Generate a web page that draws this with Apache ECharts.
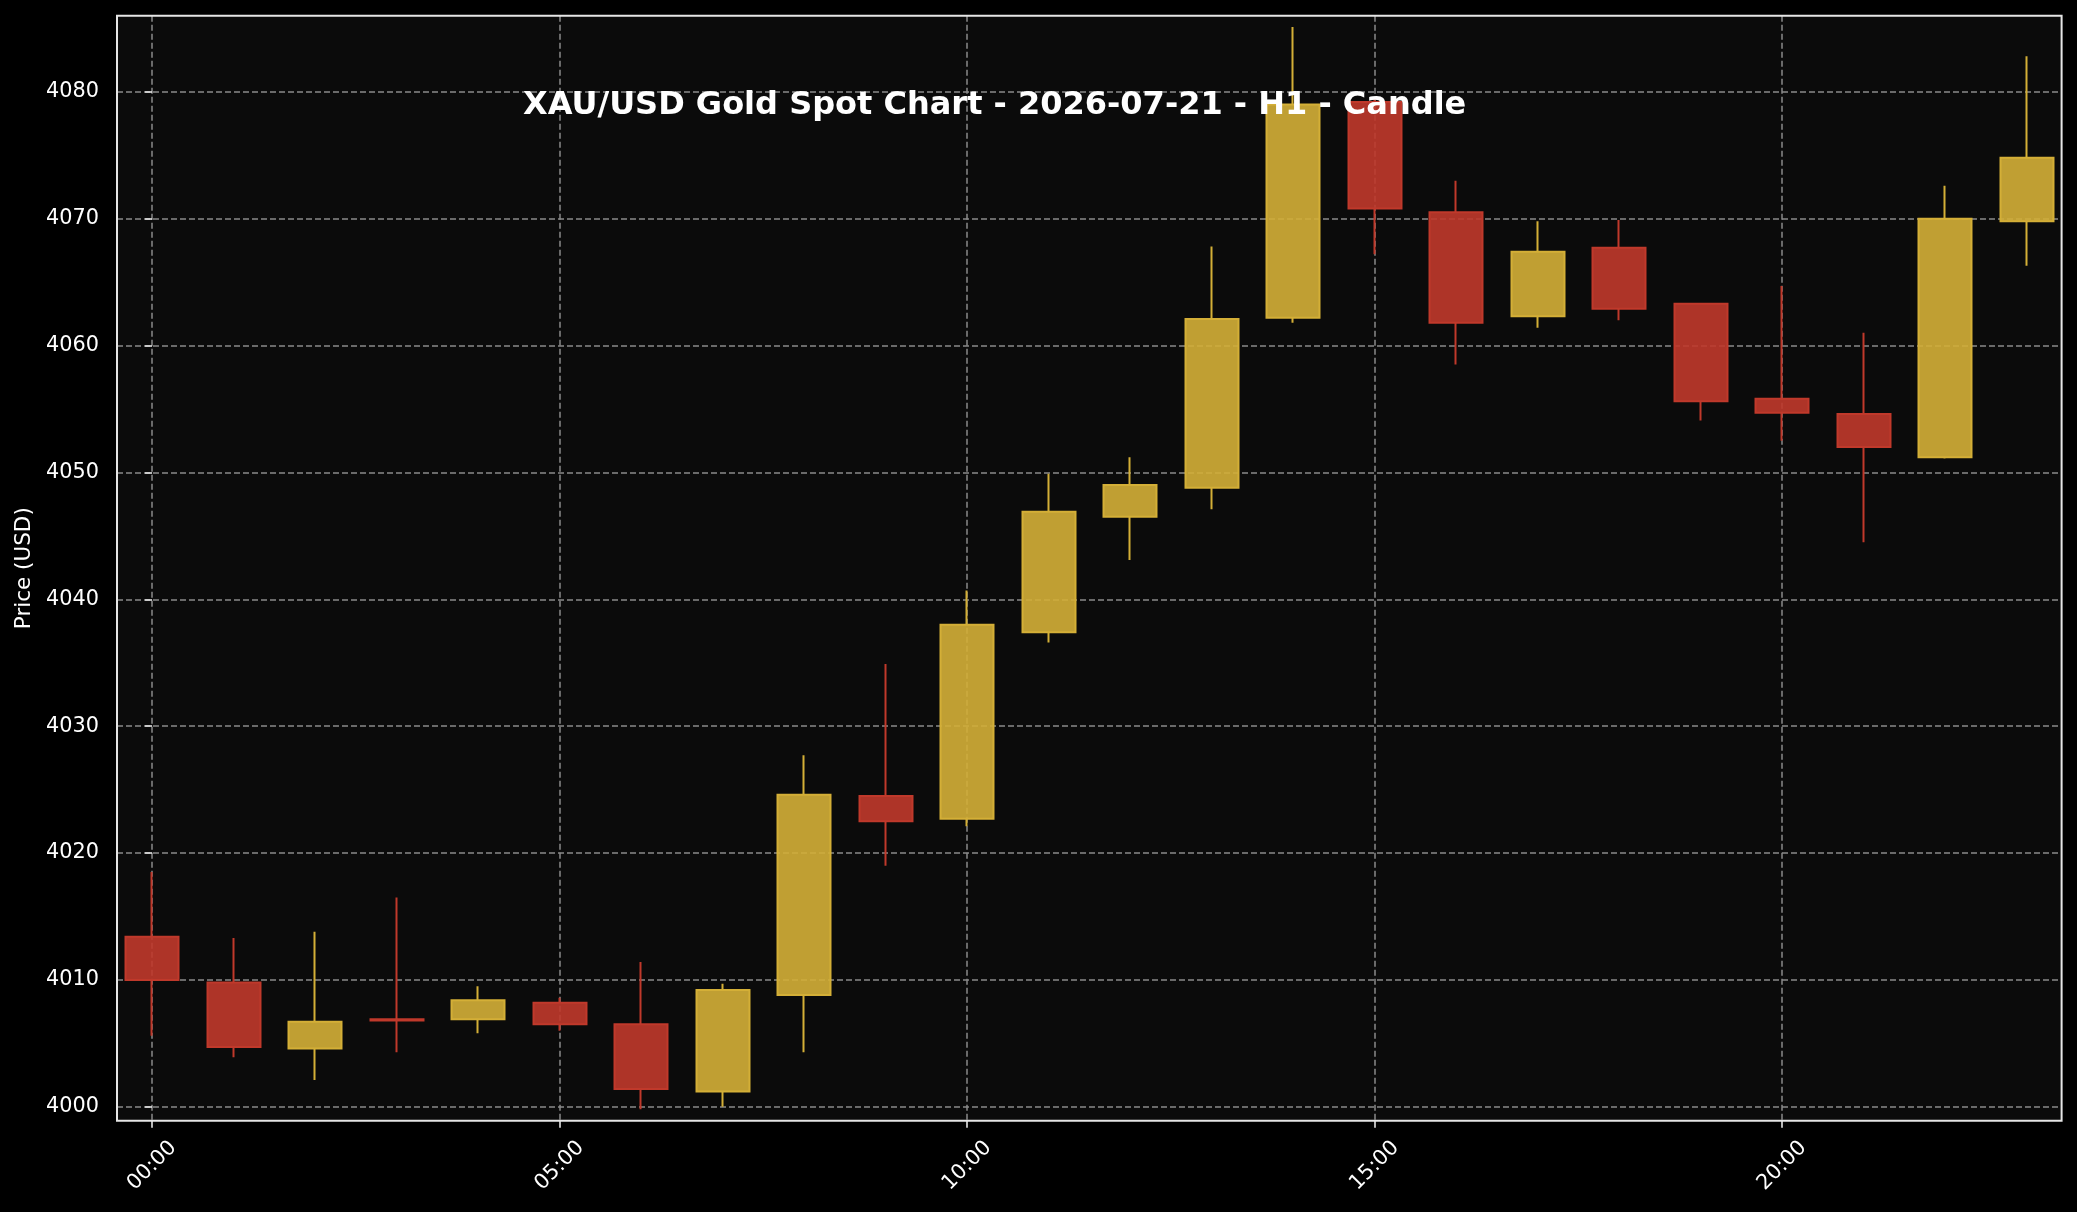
<!DOCTYPE html>
<html>
<head>
<meta charset="utf-8">
<script src="https://cdn.jsdelivr.net/npm/echarts@6/dist/echarts.min.js"></script>
<style>
html,body{margin:0;padding:0;background:#000;}
#chart{width:2077px;height:1212px;}
</style>
</head>
<body>
<div id="chart"></div>
<script>
const hours  = [0,1,2,3,4,5,6,7,8,9,10,11,12,13,14,15,16,17,18,19,20,21,22,23];
const openP  = [4013.4,4009.8,4004.6,4006.9,4006.9,4008.2,4006.5,4001.2,4008.8,4024.5,4022.7,4037.4,4046.5,4048.8,4062.2,4079.2,4070.5,4062.3,4067.7,4063.3,4055.8,4054.6,4051.2,4069.8];
const closeP = [4010.0,4004.7,4006.7,4006.8,4008.4,4006.5,4001.4,4009.2,4024.6,4022.5,4038.0,4046.9,4049.0,4062.1,4079.0,4070.8,4061.8,4067.4,4062.9,4055.6,4054.7,4052.0,4070.0,4074.8];
const lowP   = [4005.6,4003.9,4002.1,4004.3,4005.8,4006.0,3999.8,4000.0,4004.3,4019.0,4022.1,4036.6,4043.1,4047.1,4061.8,4067.2,4058.5,4061.4,4062.0,4054.1,4052.5,4044.5,4051.1,4066.3];
const highP  = [4018.5,4013.3,4013.8,4016.5,4009.5,4008.6,4011.4,4009.7,4027.7,4034.9,4040.7,4049.9,4051.2,4067.8,4085.1,4079.5,4073.0,4069.8,4069.9,4063.3,4064.7,4061.0,4072.6,4082.8];
const xTickHours = [0,5,10,15,20];
const yTicks = [4000,4010,4020,4030,4040,4050,4060,4070,4080];

const candles = hours.map((h,i)=>[h, openP[i], closeP[i], lowP[i], highP[i]]);

const GL = 117, GR = 15.4, GT = 15.7, GB = 91.3;
const W = 2077, H = 1212;
const FONT = "'DejaVu Sans', sans-serif";

const chart = echarts.init(document.getElementById('chart'), null, {renderer:'canvas'});
chart.setOption({
  backgroundColor: '#000000',
  animation: false,
  grid: {left: GL, right: GR, top: GT, bottom: GB, show: true, backgroundColor: '#0b0b0b', borderWidth: 0},
  xAxis: {
    type: 'value', min: -0.43, max: 23.43, minInterval: 5, maxInterval: 5,
    axisLine: {show: false},
    axisTick: {show: true, length: 7, lineStyle: {color: '#e6e6e6', width: 1.6}, customValues: xTickHours},
    axisLabel: {
      customValues: xTickHours, rotate: 45, align: 'center', verticalAlign: 'middle', margin: 45,
      color: '#ffffff', fontSize: 20.8, fontFamily: FONT,
      formatter: v => String(v).padStart(2,'0') + ':00'
    },
    splitLine: {show: true, lineStyle: {color: '#8a8a8a', width: 1.5, type: [6,3]}}
  },
  yAxis: {
    type: 'value', min: 3998.9, max: 4086, minInterval: 10, maxInterval: 10,
    name: 'Price (USD)', nameLocation: 'middle', nameGap: 76,
    nameTextStyle: {color: '#ffffff', fontSize: 21.5, fontFamily: FONT},
    axisLine: {show: false},
    axisTick: {show: true, length: 7, lineStyle: {color: '#e6e6e6', width: 1.6}, customValues: yTicks},
    axisLabel: {customValues: yTicks, color: '#ffffff', fontSize: 20.8, fontFamily: FONT, margin: 18,
                formatter: v => String(Math.round(v))},
    splitLine: {show: true, lineStyle: {color: '#8a8a8a', width: 1.5, type: [6,3]}}
  },
  graphic: [
    {type: 'rect', z: 100, silent: true,
     shape: {x: GL, y: GT, width: W - GL - GR, height: H - GT - GB},
     style: {fill: null, stroke: '#e6e6e6', lineWidth: 2}},
    {type: 'text', z: 101, left: 523, top: 90,
     style: {text: 'XAU/USD Gold Spot Chart - 2026-07-21 - H1 - Candle', fill: '#ffffff',
             font: "bold 32px 'DejaVu Sans', sans-serif"}}
  ],
  series: [{
    type: 'candlestick',
    data: candles,
    encode: {x: 0, y: [1,2,3,4]},
    barWidth: '66%',
    itemStyle: {
      color: 'rgba(212,175,55,0.9)', color0: 'rgba(192,57,43,0.9)',
      borderColor: '#d4af37', borderColor0: '#c0392b', borderWidth: 2
    }
  }]
});
</script>
</body>
</html>
